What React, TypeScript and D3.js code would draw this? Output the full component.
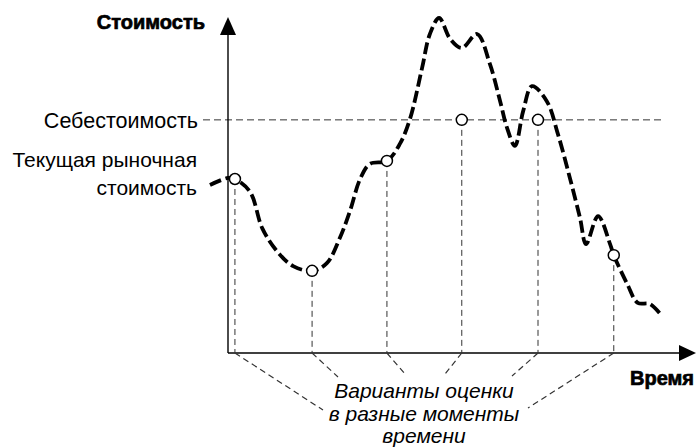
import * as d3 from 'd3';
import React from 'react';

// curve: time (0..100) vs value (0..100)
const curveTimes = [-3.9, 0, 1.5, 4.8, 7.4, 10.6, 14.1, 18.2, 21.4, 24.2, 26.4, 28.6, 30.7, 34.4, 37.2, 39.4, 42.0, 43.7, 45.7, 48.1, 50.6, 53.9, 56.7, 58.9, 60.4, 62.1, 63.9, 65.8, 69.0, 71.4, 74.0, 76.2, 77.5, 80.1, 82.7, 83.5, 86.4, 88.7, 91.3, 93.9];
const curveValues = [50.3, 52.4, 52.1, 48.2, 37.4, 30.5, 26.0, 24.6, 26.9, 34.4, 42.5, 52.1, 56.6, 57.5, 62.6, 70.1, 85.3, 95.5, 100.3, 94.0, 91.3, 95.5, 86.5, 75.4, 67.4, 62.0, 72.5, 79.9, 75.4, 65.6, 52.4, 40.4, 32.6, 41.0, 32.6, 29.3, 20.7, 15.0, 14.7, 11.1];

// estimate moments
const costValue = 69.8;
const markerTimes = [1.5, 18.2, 34.4, 50.6, 67.1, 83.5];
const markerValues = [52.1, 24.6, 57.5, 69.8, 69.8, 29.3];

const yAxisLabel = 'Стоимость';
const xAxisLabel = 'Время';
const costLabel = 'Себестоимость';
const marketLabel = ['Текущая рыночная', 'стоимость'];
const noteLines = ['Варианты оценки', 'в разные моменты', 'времени'];

// where each guide line meets the note text
const guideEnds = [[323, 410], [338, 377], [405, 374], [445, 374], [512, 376], [528, 408]];

export default function App() {
  const width = 696;
  const height = 447;
  const x = d3.scaleLinear().domain([0, 100]).range([228, 690]);
  const y = d3.scaleLinear().domain([0, 100]).range([353, 19]);

  const pts = curveTimes.map((t, i) => [x(t), y(curveValues[i])] as [number, number]);
  const line = d3.line().curve(d3.curveCatmullRom.alpha(0.5))(pts) || '';

  const font = '"Liberation Sans", Arial, sans-serif';
  const x0 = x(0);
  const y0 = y(0);
  const noteBase = [398, 421, 443];

  return (
    <svg width={width} height={height} style={{ position: 'absolute', left: 0, top: 0, background: '#fff' }}>
      {/* cost level */}
      <line x1={203} x2={665} y1={y(costValue)} y2={y(costValue)} stroke="#333" strokeWidth={1} strokeDasharray="7,4" />

      {/* axes */}
      <line x1={x0} x2={x0} y1={y0} y2={30} stroke="#000" strokeWidth={1.4} />
      <line x1={x0} x2={684} y1={y0} y2={y0} stroke="#000" strokeWidth={1.4} />
      <path d={`M${x0},17 L${x0 + 8},35 L${x0 - 8},35 Z`} fill="#000" />
      <path d={`M696,${y0} L679,${y0 - 8} L679,${y0 + 8} Z`} fill="#000" />

      {/* drop lines and guides */}
      {markerTimes.map((t, i) => (
        <g key={i}>
          <line x1={x(t)} x2={x(t)} y1={y(markerValues[i])} y2={y0} stroke="#333" strokeWidth={1} strokeDasharray="6,4" />
          <line x1={x(t)} y1={y0} x2={guideEnds[i][0]} y2={guideEnds[i][1]} stroke="#333" strokeWidth={1.2} strokeDasharray="6,4" />
        </g>
      ))}

      {/* value curve */}
      <path d={line} fill="none" stroke="#000" strokeWidth={3.8} strokeDasharray="12,4.5" />

      {markerTimes.map((t, i) => (
        <circle key={i} cx={x(t)} cy={y(markerValues[i])} r={5.5} fill="#fff" stroke="#000" strokeWidth={1.5} />
      ))}

      {/* labels */}
      <text x={205} y={29} textAnchor="end" fontFamily={font} fontWeight="bold" fontSize={20} stroke="#000" strokeWidth={0.7}>{yAxisLabel}</text>
      <text x={694} y={385} textAnchor="end" fontFamily={font} fontWeight="bold" fontSize={20} stroke="#000" strokeWidth={0.7}>{xAxisLabel}</text>
      <text x={198} y={128} textAnchor="end" fontFamily={font} fontSize={21.5}>{costLabel}</text>
      <text x={197} y={167} textAnchor="end" fontFamily={font} fontSize={21}>{marketLabel[0]}</text>
      <text x={197} y={195} textAnchor="end" fontFamily={font} fontSize={21}>{marketLabel[1]}</text>
      {noteLines.map((s, i) => (
        <text key={i} x={424} y={noteBase[i]} textAnchor="middle" fontFamily={font} fontStyle="italic" fontSize={21}>{s}</text>
      ))}
    </svg>
  );
}
